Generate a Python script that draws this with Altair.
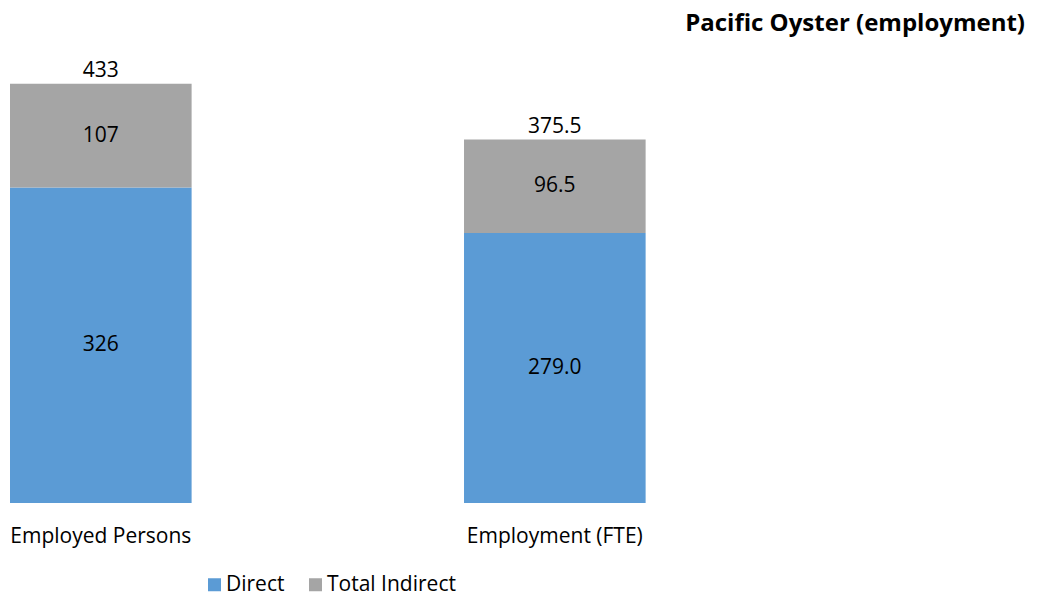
import altair as alt
import pandas as pd

categories = ["Employed Persons", "Employment (FTE)"]
series = ["Direct", "Total Indirect"]
direct = [326, 279.0]
indirect = [107, 96.5]
direct_labels = ["326", "279.0"]
indirect_labels = ["107", "96.5"]
total_labels = ["433", "375.5"]
colors = ["#5B9BD5", "#A5A5A5"]

rows = []
for i, c in enumerate(categories):
    rows.append(dict(category=c, series=series[0], value=direct[i], label=direct_labels[i],
                     mid=direct[i] / 2, order=0))
    rows.append(dict(category=c, series=series[1], value=indirect[i], label=indirect_labels[i],
                     mid=direct[i] + indirect[i] / 2, order=1))
df = pd.DataFrame(rows)
tot = pd.DataFrame(dict(category=categories,
                        total=[d + j for d, j in zip(direct, indirect)],
                        label=total_labels))

FONT = "Open Sans"
FS = 21
xscale = alt.Scale(domain=categories, paddingInner=0.6, paddingOuter=0.4178, align=0, round=False)
yscale = alt.Scale(domain=[0, 500], nice=False, zero=True)

x = alt.X("category:N", scale=xscale, sort=categories,
          axis=alt.Axis(title=None, labelAngle=0, domain=False, ticks=False, grid=False,
                        labelFontSize=FS, labelFont=FONT, labelColor="#000000", labelPadding=22,
                        labelLimit=0))

bars = alt.Chart(df).mark_bar().encode(
    x=x,
    y=alt.Y("value:Q", stack="zero", scale=yscale, axis=None),
    color=alt.Color("series:N", scale=alt.Scale(domain=series, range=colors),
                    legend=alt.Legend(title=None, orient="none", direction="horizontal",
                                      legendX=194, legendY=555, symbolType="square",
                                      symbolSize=169, symbolStrokeWidth=0, labelFont=FONT,
                                      labelFontSize=FS, labelColor="#000000", labelOffset=1,
                                      columnPadding=20, padding=0)),
    order=alt.Order("order:Q"),
)

seg_text = alt.Chart(df).mark_text(font=FONT, fontSize=FS, color="#000000", baseline="middle").encode(
    x=alt.X("category:N", scale=xscale, sort=categories),
    y=alt.Y("mid:Q", scale=yscale),
    text="label:N",
)

tot_text = alt.Chart(tot).mark_text(font=FONT, fontSize=FS, color="#000000", baseline="bottom", dy=-3).encode(
    x=alt.X("category:N", scale=xscale, sort=categories),
    y=alt.Y("total:Q", scale=yscale),
    text="label:N",
)

chart = alt.layer(bars, seg_text, tot_text).properties(
    width=1015,
    height=484,
    title=alt.Title("Pacific Oyster (employment)", anchor="end", frame="group", font=FONT,
                    fontSize=24, fontWeight="bold", color="#000000", baseline="top", offset=6,
                    dy=23),
    autosize=alt.AutoSizeParams(type="none"),
    padding={"left": 2, "top": 11, "right": 0, "bottom": 93},
).configure_view(stroke=None)

chart.save("out.html", embed_options={"renderer": "svg", "actions": False})
